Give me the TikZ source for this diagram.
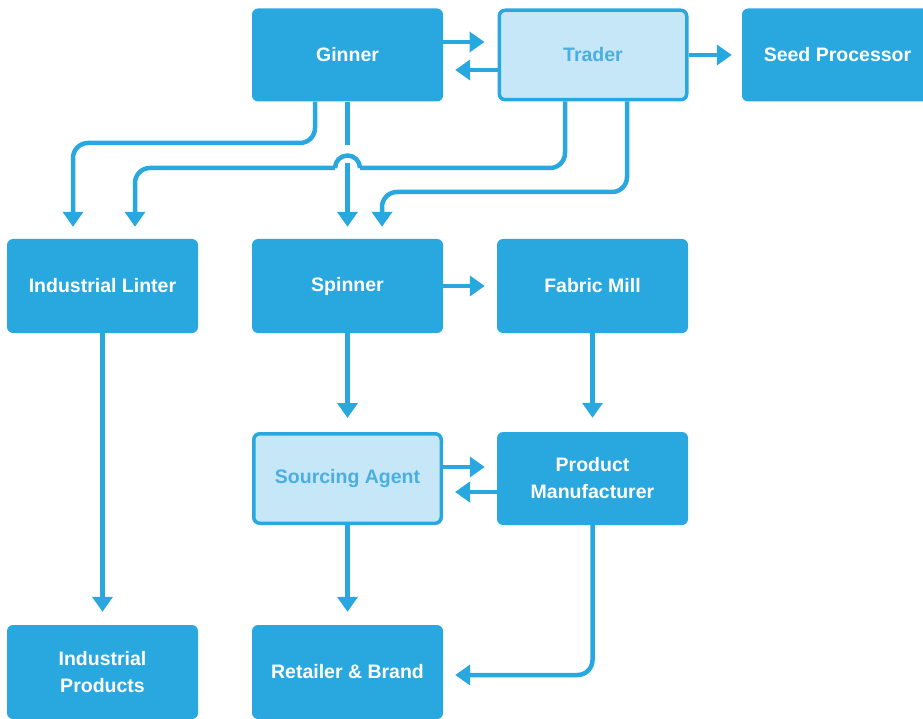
\documentclass[tikz,border=0pt]{standalone}
\usepackage{fontspec}
\setmainfont{Liberation Sans}
\usetikzlibrary{arrows.meta}
\definecolor{dblue}{HTML}{29A8E0}
\definecolor{lfill}{HTML}{C5E7F7}
\definecolor{ltext}{HTML}{4AAFE0}
\tikzset{
  box/.style={rectangle, rounded corners=6pt, fill=dblue, text=white,
    minimum width=191pt, minimum height=93pt, inner sep=0pt, align=center,
    font=\fontsize{19.5}{27}\selectfont\bfseries},
  lbox/.style={box, fill=lfill, draw=dblue, line width=3.5pt, text=ltext,
    minimum width=187.5pt, minimum height=89.5pt},
  conn/.style={draw=dblue, line width=4.5pt, rounded corners=15pt,
    -{Triangle[width=20pt,length=15pt]}},
  hop/.style={draw=dblue, line width=4.5pt},
}
\begin{document}
\begin{tikzpicture}[x=1pt,y=-1pt]
\useasboundingbox (0,0) rectangle (923,719);
\clip (0,0) rectangle (923,719);
\node[box] (ginner) at (347.5,55) {Ginner};
\node[lbox] (trader) at (593,55) {Trader};
\node[box] (seed) at (837.5,55) {Seed Processor};
\node[box, minimum height=94pt] (linter) at (102.5,286) {Industrial Linter};
\node[box, minimum height=94pt] (spinner) at (347.5,286) {Spinner};
\node[box, minimum height=94pt] (fabric) at (592.5,286) {Fabric Mill};
\node[lbox] (agent) at (347.5,478.5) {Sourcing Agent};
\node[box] (manuf) at (592.5,478.5) {Product\\Manufacturer};
\node[box, minimum height=94pt] (indprod) at (102.5,672) {Industrial\\Products};
\node[box, minimum height=94pt] (retail) at (347.5,672) {Retailer \& Brand};

% top row
\draw[conn] ([yshift=13pt]ginner.east) -- ([yshift=13pt,xshift=-13pt]trader.west);
\draw[conn] ([yshift=-15pt]trader.west) -- ([yshift=-15pt,xshift=12pt]ginner.east);
\draw[conn] (trader.east) -- ([xshift=-10pt]seed.west);

% ginner down
\draw[conn] ([xshift=-32.5pt]ginner.south) |- (73,143) -- ([xshift=-29.5pt,yshift=12pt]linter.north);
\draw[conn] (ginner.south) -- (347.5,145) (347.5,163) -- ([yshift=12pt]spinner.north);

% trader down (with a hop over the Ginner-Spinner line)
\draw[conn, -] ([xshift=-28pt]trader.south) |- (360,168);
\draw[hop] (360,168) .. controls (360,161.1) and (354.4,155.5) .. (347.5,155.5)
  .. controls (340.6,155.5) and (335,161.1) .. (335,168);
\draw[conn] (335,168) -| ([xshift=32.5pt,yshift=12pt]linter.north);
\draw[conn] ([xshift=34pt]trader.south) |- (382,192) -- ([xshift=34.5pt,yshift=12pt]spinner.north);

% middle
\draw[conn] (spinner.east) -- ([xshift=-12pt]fabric.west);
\draw[conn] (spinner.south) -- ([yshift=14pt]agent.north);
\draw[conn] (fabric.south) -- ([yshift=14pt]manuf.north);
\draw[conn] ([yshift=11.5pt]agent.east) -- ([yshift=11.5pt,xshift=-12pt]manuf.west);
\draw[conn] ([yshift=-13.5pt]manuf.west) -- ([yshift=-13.5pt,xshift=12pt]agent.east);

% bottom
\draw[conn] (linter.south) -- ([yshift=13pt]indprod.north);
\draw[conn] (agent.south) -- ([yshift=13pt]retail.north);
\draw[conn] (manuf.south) |- ([xshift=12pt,yshift=-3pt]retail.east);
\end{tikzpicture}
\end{document}
